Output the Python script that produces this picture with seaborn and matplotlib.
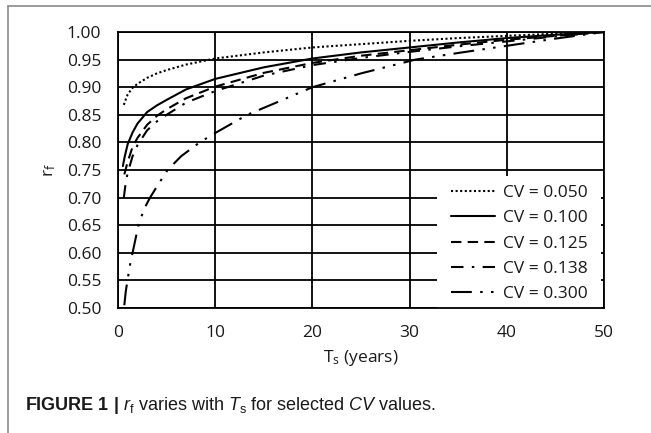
import matplotlib
matplotlib.use("Agg")
import matplotlib.pyplot as plt
import seaborn as sns
import pandas as pd
from matplotlib.patches import Rectangle
from matplotlib.lines import Line2D

# ---- data ----
ts_050 = [0.6, 0.8, 1, 1.5, 2, 3, 4, 5, 7, 10, 15, 20, 25, 30, 35, 40, 45, 50]
rf_050 = [0.868, 0.878, 0.887, 0.899, 0.906, 0.917, 0.925, 0.931, 0.941, 0.952,
          0.963, 0.972, 0.978, 0.984, 0.989, 0.993, 0.997, 1.000]

ts_100 = [0.5, 0.7, 1, 1.5, 2, 3, 4, 5, 7, 10, 15, 20, 25, 30, 35, 40, 45, 50]
rf_100 = [0.757, 0.775, 0.797, 0.818, 0.834, 0.855, 0.867, 0.877, 0.896, 0.915,
          0.936, 0.952, 0.963, 0.972, 0.981, 0.989, 0.995, 1.000]

ts_125 = [0.65, 0.8, 1, 1.5, 2, 3, 4, 5, 7, 10, 15, 20, 25, 30, 35, 40, 45, 50]
rf_125 = [0.742, 0.752, 0.765, 0.792, 0.808, 0.832, 0.848, 0.860, 0.880, 0.901,
          0.926, 0.944, 0.957, 0.967, 0.977, 0.986, 0.993, 1.000]

ts_138 = [0.6, 0.8, 1, 1.5, 2, 3, 4, 5, 7, 10, 15, 20, 25, 30, 35, 40, 45, 50]
rf_138 = [0.700, 0.728, 0.745, 0.775, 0.795, 0.822, 0.838, 0.850, 0.872, 0.893,
          0.921, 0.940, 0.953, 0.964, 0.974, 0.983, 0.992, 1.000]

ts_300 = [0.65, 0.8, 0.93, 1.2, 1.5, 2.1, 2.7, 3.3, 4, 5.1, 6.5, 8.4, 10, 13.3, 16,
          20, 25, 30.6, 35, 40, 45, 50]
rf_300 = [0.505, 0.530, 0.545, 0.575, 0.600, 0.650, 0.680, 0.700, 0.720, 0.750, 0.775,
          0.800, 0.817, 0.850, 0.870, 0.900, 0.925, 0.950, 0.962, 0.975, 0.988, 1.000]

labels = ["CV = 0.050", "CV = 0.100", "CV = 0.125", "CV = 0.138", "CV = 0.300"]
x_ticks = [0, 10, 20, 30, 40, 50]
y_ticks = [0.50, 0.55, 0.60, 0.65, 0.70, 0.75, 0.80, 0.85, 0.90, 0.95, 1.00]

series = [(ts_050, rf_050), (ts_100, rf_100), (ts_125, rf_125), (ts_138, rf_138), (ts_300, rf_300)]
styles = [(0, (1, 1.2)), "-", (0, (5, 3)), (0, (6, 4, 1.2, 4)), (0, (10, 4, 1.2, 4, 1.2, 4))]

sns.set_theme(style="white")
plt.rcParams["font.family"] = ["Open Sans", "DejaVu Sans"]
plt.rcParams["mathtext.fontset"] = "custom"
plt.rcParams["mathtext.rm"] = "Open Sans"
plt.rcParams["mathtext.it"] = "Liberation Sans:italic"
plt.rcParams["mathtext.bf"] = "Liberation Sans:bold"
plt.rcParams["mathtext.sf"] = "Liberation Sans"

fig = plt.figure(figsize=(6.51, 4.33), dpi=100)
ax = fig.add_axes([118 / 651, 1 - 308 / 433, (604 - 118) / 651, (308 - 32) / 433])

frames = []
for (t, r), lab in zip(series, labels):
    frames.append(pd.DataFrame({"Ts": t, "rf": r, "CV": lab}))
df = pd.concat(frames, ignore_index=True)

handles = []
for (lab, ls) in zip(labels, styles):
    sub = df[df["CV"] == lab]
    sns.lineplot(data=sub, x="Ts", y="rf", ax=ax, color="black", linestyle=ls,
                 linewidth=1.5, sort=True, estimator=None, legend=False, zorder=3)
    handles.append(Line2D([], [], color="black", linestyle=ls, linewidth=1.5))

ax.set_xlim(0, 50)
ax.set_ylim(0.5, 1.0)
ax.set_xticks(x_ticks)
ax.set_xticklabels([str(v) for v in x_ticks])
ax.set_yticks(y_ticks)
ax.set_yticklabels([f"{v:.2f}" for v in y_ticks])
ax.tick_params(axis="both", length=0, labelsize=12.5, colors="#1a1a1a")
ax.tick_params(axis="x", pad=12)
ax.tick_params(axis="y", pad=12)

ax.set_axisbelow(True)
ax.grid(True, color="black", linewidth=1.3)
for s in ax.spines.values():
    s.set_color("black")
    s.set_linewidth(1.3)
    s.set_zorder(4)

# white legend background that hides the grid
ax.add_patch(Rectangle(((437 - 118) / 486, 0.0), (601 - 437) / 486, (308 - 176) / 276,
                       transform=ax.transAxes, facecolor="white", edgecolor="none", zorder=1))

leg = ax.legend(handles, labels, loc="lower right", frameon=False,
                bbox_to_anchor=((588 - 118) / 486, 6 / 276), borderaxespad=0, borderpad=0,
                handlelength=2.5, handletextpad=0.5, labelspacing=0.52, fontsize=12.5)
for txt in leg.get_texts():
    txt.set_color("#1a1a1a")

ax.set_xlabel(r"T$_\mathrm{s}$ (years)", fontsize=12.5, color="#1a1a1a")
ax.xaxis.set_label_coords(0.5, -(348 - 308) / 276)
ax.set_ylabel(r"r$_\mathrm{f}$", fontsize=12.5, color="#1a1a1a")
ax.yaxis.set_label_coords((58 - 118) / 486, 0.5)

# caption
fig.text(25 / 651, 1 - 410 / 433,
         r"$\bf{FIGURE\ 1\ |}$ $\it{r}_\mathsf{f}$ varies with $\it{T}_\mathsf{s}$ for selected $\it{CV}$ values.",
         fontsize=13, family=["Liberation Sans"], va="baseline", ha="left", color="#1a1a1a")

# page frame lines (top and left)
fig.add_artist(Line2D([8 / 651, 1.0], [1 - 6 / 433, 1 - 6 / 433], transform=fig.transFigure,
                      color="#8a8a8a", linewidth=1.2))
fig.add_artist(Line2D([8 / 651, 8 / 651], [0.0, 1 - 6 / 433], transform=fig.transFigure,
                      color="#8a8a8a", linewidth=1.2))

fig.savefig("out.png", dpi=100, facecolor="white")
